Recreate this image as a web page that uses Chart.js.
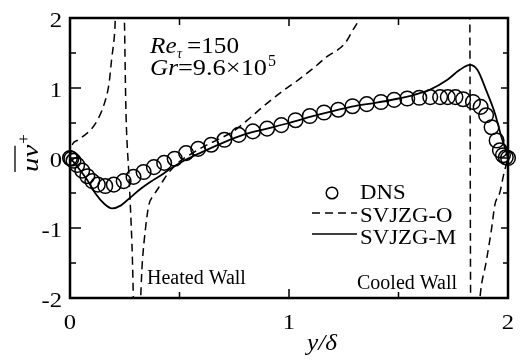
<!DOCTYPE html>
<html>
<head>
<meta charset="utf-8">
<script src="https://cdn.jsdelivr.net/npm/chart.js@4"></script>
<style>
  body { margin: 0; background: #fff; }
  canvas { display: block; }
</style>
</head>
<body>
<canvas id="grafico" width="520" height="362"></canvas>
<script>
// DNS points
let dnsX = [0, 0.006, 0.016, 0.033, 0.056, 0.079, 0.102, 0.127, 0.161, 0.20, 0.245, 0.29, 0.336, 0.383, 0.43,
    0.478, 0.53, 0.585, 0.645, 0.705, 0.77, 0.835, 0.9, 0.965, 1.03, 1.095, 1.16, 1.225, 1.29, 1.355, 1.42,
    1.48, 1.54, 1.595, 1.645, 1.69, 1.725, 1.76, 1.795, 1.84, 1.875, 1.90, 1.925, 1.948, 1.963, 1.977, 1.99, 2.0]
let dnsY = [0, -0.01, -0.04, -0.10, -0.18, -0.26, -0.33, -0.38, -0.40, -0.38, -0.33, -0.27, -0.20, -0.13, -0.07,
    -0.01, 0.07, 0.13, 0.19, 0.26, 0.33, 0.38, 0.42, 0.47, 0.54, 0.60, 0.65, 0.69, 0.74, 0.77, 0.80,
    0.83, 0.85, 0.86, 0.87, 0.87, 0.87, 0.87, 0.84, 0.80, 0.73, 0.61, 0.44, 0.25, 0.11, 0.04, 0.01, 0]

// SVJZG-O (runs off the axis range near both poles)
let oX = [0, 0.012, 0.033, 0.055, 0.094, 0.125, 0.155, 0.178, 0.19, 0.204, 0.212,
    0.245, 0.256, 0.27, 0.283, 0.294,
    0.316, 0.33, 0.345, 0.36, 0.383, 0.414, 0.443, 0.5, 0.56, 0.62, 0.68, 0.745, 0.81, 0.88, 0.96,
    1.04, 1.11, 1.17, 1.256, 1.29, 1.32, 1.34,
    1.825, 1.83, 1.866, 1.872, 1.90, 1.925, 1.94, 1.963, 1.98, 2.0]
let oY = [0, 0.2, 0.25, 0.30, 0.40, 0.54, 0.76, 1.06, 1.41, 1.80, 2.3,
    2.3, 0.6, -0.3, -1.24, -2.3,
    -2.3, -1.5, -1.0, -0.67, -0.53, -0.38, -0.24, -0.05, 0.07, 0.18, 0.27, 0.38, 0.54, 0.73, 0.93,
    1.11, 1.28, 1.44, 1.64, 1.82, 2.0, 2.3,
    2.3, -2.3, -2.3, -2.0, -1.49, -1.01, -0.67, -0.49, -0.24, 0]

// SVJZG-M
let mX = [0, 0.02, 0.04, 0.078, 0.117, 0.155, 0.192, 0.231, 0.277, 0.323, 0.368, 0.414, 0.46, 0.52, 0.6,
    0.7, 0.8, 0.9, 1.0, 1.1, 1.2, 1.3, 1.4, 1.5, 1.56, 1.6, 1.64, 1.72, 1.78, 1.826, 1.86, 1.90, 1.94,
    1.97, 1.99, 2.0]
let mY = [0, -0.07, -0.15, -0.31, -0.51, -0.65, -0.72, -0.68, -0.56, -0.44, -0.34, -0.25, -0.15, -0.04, 0.08,
    0.22, 0.34, 0.42, 0.50, 0.59, 0.67, 0.74, 0.79, 0.85, 0.89, 0.93, 0.97, 1.11, 1.26, 1.33, 1.26, 0.97, 0.64,
    0.30, 0.11, 0]

let xTicks = [0, 1, 2]
let yTicks = [2, 1, 0, -1, -2]
let xMinor = [0.5, 1.5]
let yMinor = [1.5, 0.5, -0.5, -1.5]

const serif = "'Liberation Serif', 'Times New Roman', serif"
const tracejado = [8, 5]

function pares(xs, ys) {
    return xs.map((x, i) => ({ x: x, y: ys[i] }))
}

// text with optional horizontal stretch
function texto(ctx, s, x, y, font, sx, align) {
    ctx.save()
    ctx.font = font
    ctx.textAlign = 'left'
    ctx.textBaseline = 'alphabetic'
    let w = ctx.measureText(s).width * sx
    let x0 = align === 'center' ? x - w / 2 : (align === 'right' ? x - w : x)
    ctx.translate(x0, y)
    ctx.scale(sx, 1)
    ctx.fillStyle = '#000'
    ctx.fillText(s, 0, 0)
    ctx.restore()
    return x0 + w
}

// text stretched to run from x0 to x1
function textoEntre(ctx, s, x0, x1, y, font) {
    ctx.save()
    ctx.font = font
    let w = ctx.measureText(s).width
    ctx.restore()
    return texto(ctx, s, x0, y, font, (x1 - x0) / w, 'left')
}

const moldura = {
    id: 'moldura',
    beforeDraw(chart) {
        let ctx = chart.ctx
        ctx.save()
        ctx.fillStyle = '#fff'
        ctx.fillRect(0, 0, chart.width, chart.height)
        ctx.restore()
    },
    afterDraw(chart) {
        let ctx = chart.ctx
        let a = chart.chartArea
        let sx = chart.scales.x
        let sy = chart.scales.y

        ctx.save()
        ctx.strokeStyle = '#000'
        ctx.lineWidth = 2.5
        ctx.strokeRect(a.left, a.top, a.right - a.left, a.bottom - a.top)

        // inward ticks
        ctx.lineWidth = 1.5
        ctx.beginPath()
        xTicks.concat(xMinor).forEach(v => {
            let px = sx.getPixelForValue(v)
            let major = xTicks.includes(v)
            ctx.moveTo(px, a.bottom); ctx.lineTo(px, a.bottom - (major ? 9 : 6))
            ctx.moveTo(px, a.top); ctx.lineTo(px, a.top + (major ? 8 : 7))
        })
        yTicks.concat(yMinor).forEach(v => {
            let py = sy.getPixelForValue(v)
            let major = yTicks.includes(v)
            ctx.moveTo(a.left, py); ctx.lineTo(a.left + (major ? 11 : 6), py)
            ctx.moveTo(a.right, py); ctx.lineTo(a.right - (major ? 7 : 5), py)
        })
        ctx.stroke()
        ctx.restore()

        // tick labels
        let fTick = '22px ' + serif
        yTicks.forEach(v => {
            texto(ctx, String(v), 62, sy.getPixelForValue(v) + 8.5, fTick, 1.12, 'right')
        })
        xTicks.forEach(v => {
            texto(ctx, String(v), sx.getPixelForValue(v), 329, fTick, 1.12, 'center')
        })

        // axis titles
        texto(ctx, 'y/δ', 322, 350, 'italic 24px ' + serif, 1.05, 'center')

        ctx.save()
        ctx.translate(38, 172)
        ctx.rotate(-Math.PI / 2)
        let fim = texto(ctx, 'uv', 0, 0, 'italic 24px ' + serif, 1.2, 'left')
        texto(ctx, '+', fim + 1, -9, '17px ' + serif, 1, 'left')
        ctx.strokeStyle = '#000'
        ctx.lineWidth = 1.3
        ctx.beginPath()
        ctx.moveTo(0, -23)
        ctx.lineTo(fim - 1, -23)
        ctx.stroke()
        ctx.restore()

        // case parameters
        let f24 = '24px ' + serif
        texto(ctx, 'Re', 150, 53, 'italic 24px ' + serif, 1.05, 'left')
        texto(ctx, 'τ', 177, 58, 'italic 14px ' + serif, 1, 'left')
        textoEntre(ctx, '=150', 187, 239, 53, f24)
        let g = texto(ctx, 'Gr', 150, 75, 'italic 24px ' + serif, 1.05, 'left')
        textoEntre(ctx, '=9.6×10', g, 267, 75, f24)
        texto(ctx, '5', 268, 66, '16px ' + serif, 1, 'left')

        texto(ctx, 'Heated Wall', 147, 284, '20px ' + serif, 1, 'left')
        texto(ctx, 'Cooled Wall', 357, 289, '20px ' + serif, 1, 'left')

        // legend
        ctx.save()
        ctx.strokeStyle = '#000'
        ctx.lineWidth = 1.5
        ctx.beginPath()
        ctx.arc(332, 193, 5.8, 0, Math.PI * 2)
        ctx.stroke()
        ctx.setLineDash(tracejado)
        ctx.beginPath()
        ctx.moveTo(312, 213); ctx.lineTo(357, 213)
        ctx.stroke()
        ctx.setLineDash([])
        ctx.lineWidth = 1.7
        ctx.beginPath()
        ctx.moveTo(312, 234); ctx.lineTo(357, 234)
        ctx.stroke()
        ctx.restore()
        let fLeg = '20px ' + serif
        texto(ctx, 'DNS', 360, 199, fLeg, 1.14, 'left')
        texto(ctx, 'SVJZG-O', 360, 222, fLeg, 1.14, 'left')
        texto(ctx, 'SVJZG-M', 360, 244, fLeg, 1.14, 'left')
    }
}

let ctx = document.getElementById('grafico').getContext('2d')
new Chart(ctx, {
    type: 'scatter',
    data: {
        datasets: [{
            label: 'DNS',
            data: pares(dnsX, dnsY),
            showLine: false,
            pointStyle: 'circle',
            pointRadius: 7.3,
            pointBorderWidth: 1.5,
            borderColor: '#000',
            backgroundColor: 'rgba(0,0,0,0)',
            clip: false
        }, {
            label: 'SVJZG-O',
            data: pares(oX, oY),
            showLine: true,
            borderColor: '#000',
            borderWidth: 1.5,
            borderDash: tracejado,
            pointRadius: 0,
            cubicInterpolationMode: 'monotone',
            clip: 0
        }, {
            label: 'SVJZG-M',
            data: pares(mX, mY),
            showLine: true,
            borderColor: '#000',
            borderWidth: 1.8,
            pointRadius: 0,
            cubicInterpolationMode: 'monotone',
            clip: 0
        }]
    },
    options: {
        responsive: false,
        animation: false,
        events: [],
        layout: { padding: { left: 70, right: 12, top: 18, bottom: 64 } },
        plugins: {
            legend: { display: false },
            tooltip: { enabled: false }
        },
        scales: {
            x: { type: 'linear', min: 0, max: 2, display: false },
            y: { type: 'linear', min: -2, max: 2, display: false }
        }
    },
    plugins: [moldura]
})
</script>
</body>
</html>
